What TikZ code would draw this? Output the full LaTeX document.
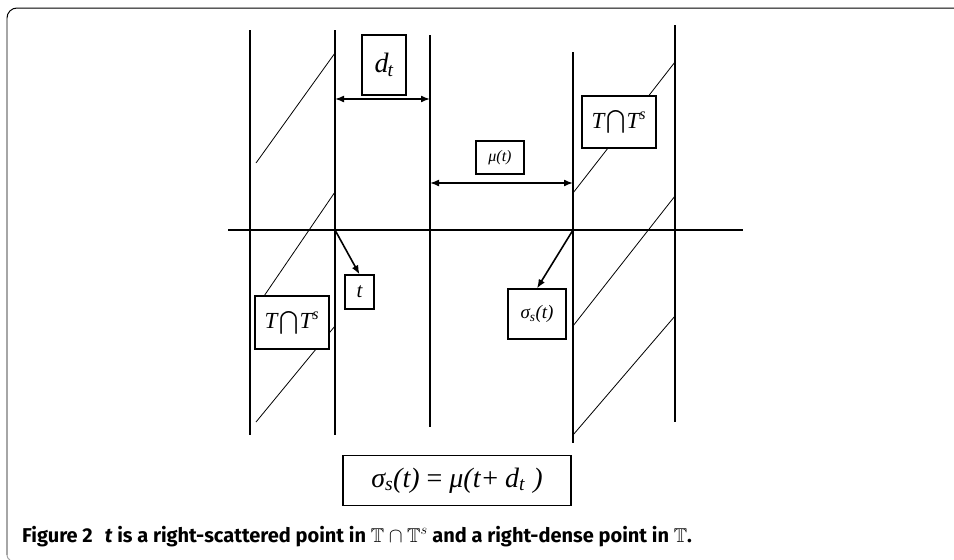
\documentclass[tikz,border=0pt]{standalone}
\usepackage{amssymb}
\usepackage{fontspec}
\usetikzlibrary{arrows.meta}
\newfontfamily\tnr{Liberation Serif}
\newfontfamily\capfont{Fira Sans}
\begin{document}
\begin{tikzpicture}[x={(1pt,0)},y={(0,-1pt)},
  vline/.style={line width=1.3pt},
  hatch/.style={line width=0.8pt},
  lbl/.style={draw,line width=1.2pt,fill=white,inner sep=0pt,font=\tnr\itshape},
  dimarrow/.style={line width=1.6pt,{Latex[length=9pt,width=7pt]}-{Latex[length=9pt,width=7pt]}},
  ptarrow/.style={line width=1.6pt,-{Latex[length=9pt,width=7pt]}}]
\useasboundingbox (0,0) rectangle (954,560);
% frame
\draw[gray!70,line width=1.6pt] (7,555) -- (7,18);
\draw[black,line width=1pt] (7,18) to[out=90,in=180] (17,8) -- (954,8);
\draw[gray!70,line width=1pt] (7,555) to[out=-90,in=150] (10,560);
% hatch lines
\draw[hatch] (256,163) -- (335,53);
\draw[hatch] (335,192) -- (262,299);
\draw[hatch] (335,326) -- (256,422);
\draw[hatch] (573,193) -- (675,62);
\draw[hatch] (573,326) -- (675,196);
\draw[hatch] (573,435) -- (675,316);
% vertical lines
\coordinate (v1t) at (250,30); \coordinate (v1b) at (250,435);
\coordinate (v2t) at (335,30); \coordinate (v2b) at (335,435);
\coordinate (v3t) at (430,35); \coordinate (v3b) at (430,427);
\coordinate (v4t) at (573,52); \coordinate (v4b) at (573,443);
\coordinate (v5t) at (675,25); \coordinate (v5b) at (675,422);
\draw[vline] (v1t) -- (v1b);
\draw[vline] (v2t) -- (v2b);
\draw[vline] (v3t) -- (v3b);
\draw[vline] (v4t) -- (v4b);
\draw[vline] (v5t) -- (v5b);
% axis
\coordinate (axl) at (228,230); \coordinate (axr) at (743,230);
\draw[vline] (axl) -- (axr);
% boxes
\node[lbl,minimum width=44pt,minimum height=60pt,font=\tnr\itshape\fontsize{28}{28}\selectfont] (dt) at (384,65) {d\textsubscript{\kern-1pt t}};
\node[lbl,minimum width=48pt,minimum height=33pt,font=\tnr\itshape\fontsize{16}{16}\selectfont] (mu) at (500,157.5) {μ(t)};
\node[lbl,minimum width=74pt,minimum height=52pt,font=\tnr\itshape\fontsize{23}{23}\selectfont] (tt1) at (619,122) {T\kern2pt$\bigcap$\kern1ptT\textsuperscript{s}};
\node[lbl,minimum width=29pt,minimum height=34pt,font=\tnr\itshape\fontsize{21}{21}\selectfont] (tb) at (359.5,292) {t};
\node[lbl,minimum width=74pt,minimum height=53pt,font=\tnr\itshape\fontsize{23}{23}\selectfont] (tt2) at (292,322.5) {T\kern2pt$\bigcap$\kern1ptT\textsuperscript{s}};
\node[lbl,minimum width=58pt,minimum height=50pt,font=\tnr\itshape\fontsize{19}{19}\selectfont] (sig) at (537,314) {σ\textsubscript{s}(t)};
\node[lbl,minimum width=228pt,minimum height=50pt,font=\tnr\itshape\fontsize{28}{28}\selectfont] (eq) at (457,480.5) {σ\textsubscript{s}(t)\hspace{0.25em}{\upshape=}\hspace{0.25em}μ(t+\hspace{0.2em}d\textsubscript{t}\hspace{0.3em})};
% arrows
\coordinate (dl) at (335,99); \coordinate (dr) at (430,99);
\draw[dimarrow] (dl) -- (dr);
\coordinate (ml) at (430,183); \coordinate (mr) at (573,183);
\draw[dimarrow] (ml) -- (mr);
\coordinate (p1) at (335,230); \coordinate (p2) at (573,230);
\draw[ptarrow] (p1) -- (tb.north);
\draw[ptarrow] (p2) -- (sig.north);
% caption
\node[anchor=base west,inner sep=0pt,font=\capfont\bfseries\fontsize{20}{20}\selectfont] (cap) at (22,542) {Figure 2\hspace{0.6em}\textit{t} is a right-scattered point in $\mathbb{T}\cap\mathbb{T}^{s}$ and a right-dense point in $\mathbb{T}$.};
\end{tikzpicture}
\end{document}
